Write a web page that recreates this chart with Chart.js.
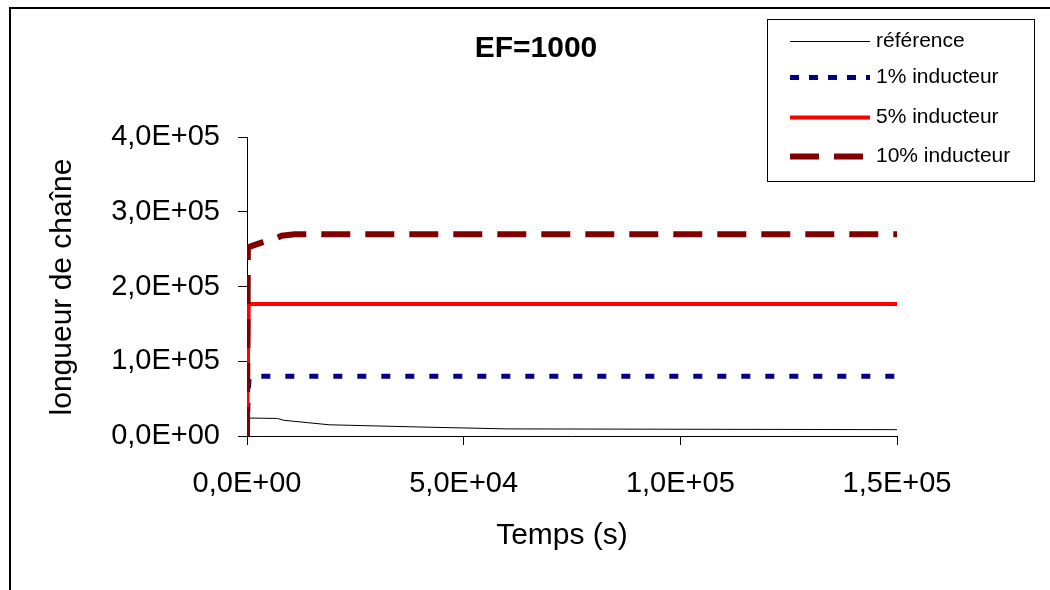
<!DOCTYPE html>
<html>
<head>
<meta charset="utf-8">
<script src="https://cdn.jsdelivr.net/npm/chart.js@4"></script>
<style>
  body { margin: 0; background: #fff; }
  #wrap { width: 1050px; height: 590px; position: relative; }
</style>
</head>
<body>
<div id="wrap"><canvas id="chart" width="1050" height="590"></canvas></div>
<script>
// series data (temps en s, longueur de chaîne)
const seriesNames = ['référence', '1% inducteur', '5% inducteur', '10% inducteur'];
const refData = [[0, 0], [150, 42000], [300, 24000], [7000, 23500], [8500, 21000], [19000, 15000], [40000, 12000], [60000, 9500], [150000, 8500]];
const ind1Data = [[0, 0], [300, 60000], [500, 80000], [150000, 80000]];
const ind5Data = [[0, 0], [400, 176500], [150000, 176500]];
const ind10Data = [[0, 0], [200, 252000], [1000, 254000], [3500, 259000], [6500, 264000], [8000, 268000], [11000, 270000], [150000, 270000]];
const xTicks = [0, 50000, 100000, 150000];
const yTicks = [0, 100000, 200000, 300000, 400000];

const FONT = '"Liberation Sans", Arial, sans-serif';

// format 4,0E+05
function sciFmt(v) {
    if (v === 0) return '0,0E+00';
    const e = Math.floor(Math.log10(Math.abs(v)));
    const m = (v / Math.pow(10, e)).toFixed(1).replace('.', ',');
    return m + 'E' + (e < 0 ? '-' : '+') + String(Math.abs(e)).padStart(2, '0');
}

function toPts(arr) {
    return arr.map(p => ({ x: p[0], y: p[1] }));
}

const styles = [
    { color: '#000000', width: 1, dash: [], legDash: [] },
    { color: '#000080', width: 5, dash: [9, 15], legDash: [9, 10] },
    { color: '#ff0000', width: 4, dash: [], legDash: [] },
    { color: '#800000', width: 6, dash: [29, 15], legDash: [29, 15] }
];

const allData = [refData, ind1Data, ind5Data, ind10Data];

const datasets = allData.map((d, i) => ({
    label: seriesNames[i],
    data: toPts(d),
    showLine: true,
    borderColor: styles[i].color,
    borderWidth: styles[i].width,
    borderDash: styles[i].dash,
    pointRadius: 0,
    tension: 0,
    fill: false,
    order: 3 - i
}));

// titles, frame and legend
const decorPlugin = {
    id: 'decor',
    afterDraw(chart) {
        const ctx = chart.ctx;
        ctx.save();
        // outer frame
        ctx.strokeStyle = '#000';
        ctx.lineWidth = 2;
        ctx.beginPath();
        ctx.moveTo(10, 592);
        ctx.lineTo(10, 8);
        ctx.lineTo(1052, 8);
        ctx.stroke();

        ctx.fillStyle = '#000';
        ctx.textAlign = 'center';
        ctx.textBaseline = 'middle';
        ctx.font = 'bold 30px ' + FONT;
        ctx.fillText('EF=1000', 536, 49);

        ctx.font = '30px ' + FONT;
        ctx.fillText('Temps (s)', 562, 536);

        ctx.save();
        ctx.translate(63, 287);
        ctx.rotate(-Math.PI / 2);
        ctx.fillText('longueur de chaîne', 0, 0);
        ctx.restore();

        // legend box
        ctx.lineWidth = 1;
        ctx.strokeStyle = '#000';
        ctx.strokeRect(767.5, 19.5, 267, 162);
        const rows = [41, 77, 117, 156];
        ctx.font = '21px ' + FONT;
        ctx.textAlign = 'left';
        rows.forEach((y, i) => {
            const s = styles[i];
            ctx.strokeStyle = s.color;
            ctx.lineWidth = s.width;
            ctx.setLineDash(s.legDash);
            ctx.beginPath();
            ctx.moveTo(790, y + 0.5);
            ctx.lineTo(870, y + 0.5);
            ctx.stroke();
            ctx.setLineDash([]);
            ctx.fillStyle = '#000';
            ctx.fillText(seriesNames[i], 876, y);
        });
        ctx.restore();
    }
};

new Chart(document.getElementById('chart'), {
    type: 'scatter',
    data: { datasets: datasets },
    options: {
        responsive: false,
        animation: false,
        layout: { padding: { left: 0, right: 153, top: 137, bottom: 0 } },
        plugins: {
            legend: { display: false },
            tooltip: { enabled: false }
        },
        scales: {
            x: {
                type: 'linear',
                min: 0,
                max: 150000,
                afterFit(scale) { scale.height = 154; },
                afterBuildTicks(scale) { scale.ticks = xTicks.map(v => ({ value: v })); },
                ticks: {
                    callback: v => sciFmt(v),
                    color: '#000',
                    font: { family: FONT, size: 29 },
                    padding: 22,
                    maxRotation: 0
                },
                grid: { display: true, drawOnChartArea: false, drawTicks: true, tickLength: 9, color: '#000' },
                border: { display: true, color: '#000', width: 1 }
            },
            y: {
                type: 'linear',
                min: 0,
                max: 400000,
                afterFit(scale) { scale.width = 247; },
                afterBuildTicks(scale) { scale.ticks = yTicks.map(v => ({ value: v })); },
                ticks: {
                    callback: v => sciFmt(v),
                    color: '#000',
                    font: { family: FONT, size: 29 },
                    padding: 18
                },
                grid: { display: true, drawOnChartArea: false, drawTicks: true, tickLength: 9, color: '#000' },
                border: { display: true, color: '#000', width: 1 }
            }
        }
    },
    plugins: [decorPlugin]
});
</script>
</body>
</html>
